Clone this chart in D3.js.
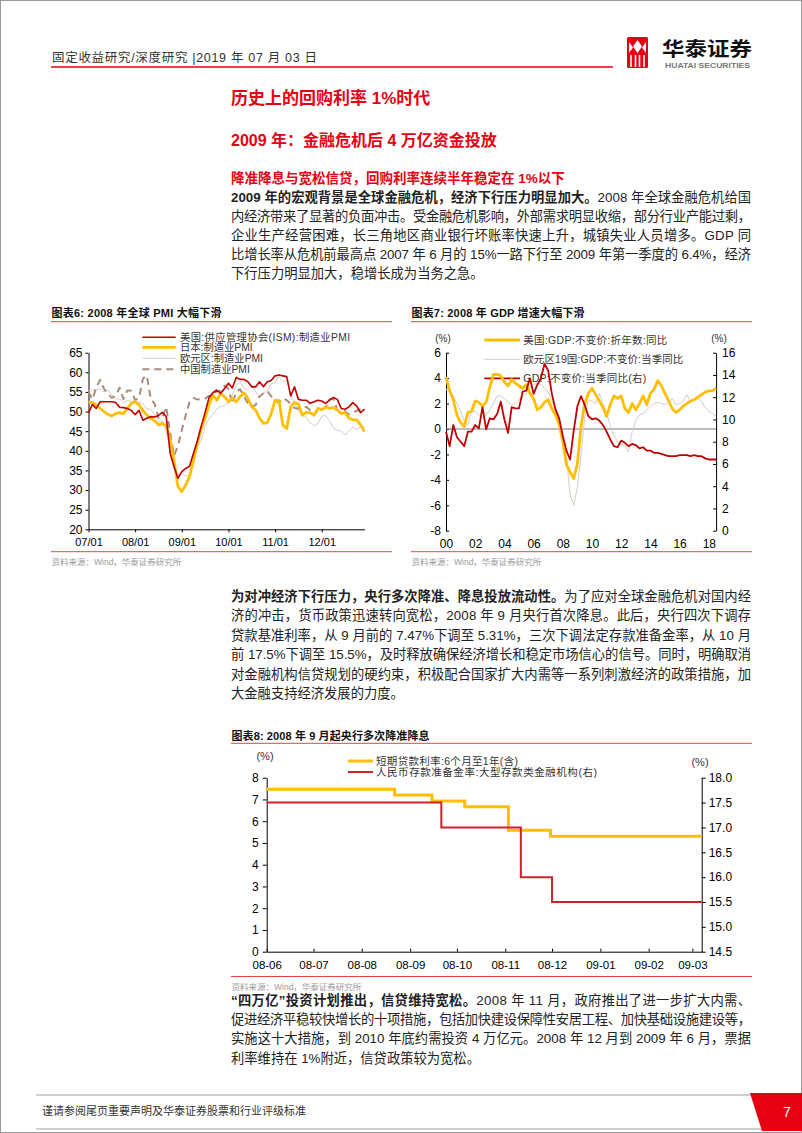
<!DOCTYPE html>
<html><head><meta charset="utf-8">
<script src="https://cdn.jsdelivr.net/npm/d3@7"></script>
<style>
body{margin:0;background:#fff;}
#page{width:802px;height:1133px;overflow:hidden;}
</style></head><body><div id="page"></div>
<script>
// ---------------- DATA ----------------
// Chart 6: monthly PMI, 2007-01 .. 2012-12
const pmiTickLabels = ['07/01','08/01','09/01','10/01','11/01','12/01'];
const pmiSeriesNames = ['美国:供应管理协会(ISM):制造业PMI','日本:制造业PMI','欧元区:制造业PMI','中国制造业PMI'];
const pmiUS = [49.7,51.8,50.8,52.5,52.5,52.5,52.5,52.3,51.1,51.0,50.8,50.3,
  49.2,50.3,47.8,48.3,48.7,48.6,49.0,49.8,48.7,39.4,36.0,33.0,
  34.7,35.5,36.1,39.4,42.5,46.3,49.8,53.5,54.8,55.5,54.6,55.9,
  57.2,56.0,58.7,58.2,58.2,57.6,56.3,56.3,57.6,56.3,57.6,57.9,
  59.1,59.3,59.1,58.9,54.0,56.3,53.1,52.9,52.9,52.1,52.5,52.9,
  52.7,52.1,52.9,53.6,53.1,50.8,50.6,51.2,52.3,51.4,49.7,50.6];
const pmiJapan = [52.5,52.3,51.7,50.8,50.0,49.3,48.9,49.5,49.7,49.5,50.8,52.1,
  52.5,51.7,50.2,49.1,48.3,47.7,46.6,47.0,46.3,42.8,37.7,30.9,
  29.6,31.3,33.4,37.7,41.9,45.7,48.3,51.7,54.2,52.9,54.6,53.8,
  52.5,53.4,52.5,53.8,54.8,53.4,51.2,50.4,48.3,47.0,47.2,49.5,
  52.9,52.8,46.6,45.7,51.2,52.3,51.9,49.1,49.8,49.7,49.1,50.8,
  50.5,51.2,50.8,51.0,50.4,49.5,49.7,48.3,47.9,47.9,46.6,44.9];
const pmiEuro = [55.4,55.5,55.6,55.8,55.0,55.6,54.3,53.2,53.2,52.2,52.8,52.6,
  52.8,52.3,52.0,50.7,50.6,49.2,47.4,47.6,45.0,41.1,35.6,33.9,
  34.4,33.5,33.9,36.8,40.7,42.6,46.3,48.2,49.3,50.7,51.2,51.6,
  52.4,54.2,56.6,57.6,55.8,55.6,56.7,55.1,53.7,54.6,55.3,57.1,
  57.3,59.0,57.5,58.0,54.6,52.0,50.4,49.0,48.5,47.1,46.4,46.9,
  48.8,49.0,47.7,45.9,45.1,45.1,44.0,45.1,46.1,45.4,46.2,46.1];
const pmiChina = [55.1,53.1,56.1,58.1,55.8,54.5,53.5,54.0,56.1,53.2,55.4,55.3,
  53.0,53.4,58.4,59.2,53.3,52.0,48.4,48.4,51.2,44.6,38.8,41.2,
  45.3,49.0,52.4,53.5,53.1,53.2,53.3,54.0,54.3,55.2,55.2,56.6,
  55.8,52.0,55.1,55.7,53.9,52.1,51.2,51.7,53.8,54.7,55.2,53.9,
  52.9,52.2,53.4,52.9,52.0,50.9,50.7,50.9,51.2,50.4,49.0,50.3,
  50.5,51.0,53.1,53.3,50.4,50.2,50.1,49.2,49.8,50.2,50.6,50.6];

// Chart 7: quarterly GDP yoy, 2000Q3 .. 2019Q1
const gdpTickLabels = ['00','02','04','06','08','10','12','14','16','18'];
const gdpSeriesNames = ['美国:GDP:不变价:折年数:同比','欧元区19国:GDP:不变价:当季同比','GDP:不变价:当季同比(右)'];
const gdpUS = [4.1,3.0,2.3,1.1,0.5,0.2,1.3,1.4,2.2,2.1,
  1.8,2.1,3.3,4.3,4.3,4.2,3.7,3.4,3.9,3.6,
  3.4,3.2,3.5,2.8,2.4,1.5,1.7,2.1,2.3,1.6,
  1.1,0.4,-1.0,-2.8,-3.4,-3.9,-2.7,0.2,2.0,2.8,
  3.2,2.7,2.2,1.7,1.0,1.9,2.6,2.4,2.6,1.6,
  1.3,2.0,1.5,2.0,2.6,1.9,2.8,3.1,3.8,3.4,
  2.8,2.2,1.6,1.3,1.5,1.8,2.0,2.2,2.3,2.5,
  2.7,2.9,3.0,3.0,3.2];
const gdpEuro = [3.1,3.0,2.6,2.0,1.4,0.6,0.3,1.4,1.4,1.1,
  0.8,1.1,1.5,2.0,2.6,2.6,2.4,2.1,1.9,2.0,
  2.3,2.5,2.8,3.3,3.5,3.6,3.5,3.2,2.9,2.2,
  1.5,0.8,-0.3,-2.2,-5.2,-6.0,-4.6,-2.0,0.9,2.3,
  2.2,2.0,2.8,2.0,1.3,0.2,-0.5,-1.0,-1.2,-1.3,
  -1.8,-0.2,0.7,1.1,1.2,1.5,1.8,2.0,2.1,2.0,
  1.9,2.1,2.4,1.9,2.0,2.2,2.7,2.1,2.3,2.4,
  2.2,1.7,1.4,1.2,1.0];
const gdpChina = [8.9,7.6,9.5,8.4,8.0,7.6,8.9,8.9,9.5,9.2,
  11.1,9.1,10.1,10.0,10.5,11.6,10.0,8.8,11.1,11.0,
  11.0,12.5,12.6,13.7,12.3,13.1,13.7,15.0,14.4,12.3,
  10.9,10.1,8.5,7.2,6.4,9.0,11.2,12.1,11.3,10.3,
  10.0,10.1,9.9,9.5,8.9,8.2,7.6,7.5,8.1,7.9,
  7.6,7.8,7.7,7.4,7.5,7.2,7.2,7.0,7.0,6.9,
  6.8,6.7,6.7,6.7,6.8,6.8,6.8,6.7,6.8,6.7,
  6.7,6.5,6.4,6.4,6.4];

// Chart 8: step series
const rateTickLabels = ['08-06','08-07','08-08','08-09','08-10','08-11','08-12','09-01','09-02','09-03'];
const rateSeriesNames = ['短期贷款利率:6个月至1年(含)','人民币存款准备金率:大型存款类金融机构(右)'];
const loanDates = ['2008-06-01','2008-08-22','2008-09-15','2008-10-06','2008-11-03','2008-11-30','2009-03-07'];
const loanRates = [7.47,7.20,6.93,6.66,5.58,5.31,5.31];
const rrrDates = ['2008-06-01','2008-09-21','2008-11-11','2008-12-01','2009-03-07'];
const rrrRates = [17.5,17.0,16.0,15.5,15.5];

// ---------------- PAGE ----------------
const FONT = '"Liberation Sans","Noto Sans CJK SC",sans-serif';
const RED = '#e60012';
const svg = d3.select('#page').append('svg').attr('width',802).attr('height',1133)
  .style('font-family',FONT);
svg.append('rect').attr('x',0.5).attr('y',0.5).attr('width',801).attr('height',1132)
  .attr('fill','#fff').attr('stroke','#9a9a9a');

function text(x,y,s,o={}){
  const t = svg.append('text').attr('x',x).attr('y',y).text(s)
    .attr('font-size',o.fs||12).attr('fill',o.fill||'#222');
  if(o.bold) t.attr('font-weight','bold');
  if(o.anchor) t.attr('text-anchor',o.anchor);
  if(o.len) t.attr('textLength',o.len).attr('lengthAdjust',o.adj||'spacingAndGlyphs');
  return t;
}
function hline(x1,x2,y,c,w){svg.append('line').attr('x1',x1).attr('x2',x2).attr('y1',y).attr('y2',y).attr('stroke',c).attr('stroke-width',w);}

// header
text(52,62,'固定收益研究/深度研究 |2019 年 07 月 03 日',{fs:12.5,fill:'#333',len:265,adj:'spacing'});
hline(51,613,67,RED,1.5);
// logo
svg.append('rect').attr('x',627).attr('y',37).attr('width',21).attr('height',31).attr('rx',1.5).attr('fill',RED);
const lg = svg.append('g').attr('fill','#fff');
lg.append('path').attr('d','M637.5,40 L642,46.5 L637.5,53 L633,46.5Z');
lg.append('path').attr('d','M629,42 L633,47.5 L629,53Z');
lg.append('path').attr('d','M646,42 L642,47.5 L646,53Z');
[631,635.5,639.5,644].forEach(x=>lg.append('rect').attr('x',x-0.8).attr('y',55).attr('width',1.6).attr('height',12));
text(662,56,'华泰证券',{fs:19,bold:true,fill:'#111',len:90});
text(665,67.5,'HUATAI SECURITIES',{fs:7.5,bold:true,fill:'#777',len:85});

// titles
text(231,104,'历史上的回购利率 1%时代',{fs:17,bold:true,fill:RED});
text(231,146,'2009 年：金融危机后 4 万亿资金投放',{fs:16,bold:true,fill:RED});
text(231,183,'降准降息与宽松信贷，回购利率连续半年稳定在 1%以下',{fs:13.5,bold:true,fill:RED});

function para(lines,y0,dy){
  lines.forEach((ln,k)=>{
    const t = svg.append('text').attr('x',231).attr('y',y0+k*dy).attr('font-size',13.3).attr('fill','#222');
    ln.s.forEach(seg=>{const ts=t.append('tspan').text(seg[0]); if(seg[1]) ts.attr('font-weight','bold');});
    if(ln.j) t.attr('textLength',520).attr('lengthAdjust','spacing');
  });
}
para([
 {s:[['2009 年的宏观背景是全球金融危机，经济下行压力明显加大。',1],['2008 年全球金融危机给国']],j:1},
 {s:[['内经济带来了显著的负面冲击。受金融危机影响，外部需求明显收缩，部分行业产能过剩，']],j:1},
 {s:[['企业生产经营困难，长三角地区商业银行坏账率快速上升，城镇失业人员增多。GDP 同']],j:1},
 {s:[['比增长率从危机前最高点 2007 年 6 月的 15%一路下行至 2009 年第一季度的 6.4%，经济']],j:1},
 {s:[['下行压力明显加大，稳增长成为当务之急。']]}
],201.5,19);

para([
 {s:[['为对冲经济下行压力，央行多次降准、降息投放流动性。',1],['为了应对全球金融危机对国内经']],j:1},
 {s:[['济的冲击，货币政策迅速转向宽松，2008 年 9 月央行首次降息。此后，央行四次下调存']],j:1},
 {s:[['贷款基准利率，从 9 月前的 7.47%下调至 5.31%，三次下调法定存款准备金率，从 10 月']],j:1},
 {s:[['前 17.5%下调至 15.5%，及时释放确保经济增长和稳定市场信心的信号。同时，明确取消']],j:1},
 {s:[['对金融机构信贷规划的硬约束，积极配合国家扩大内需等一系列刺激经济的政策措施，加']],j:1},
 {s:[['大金融支持经济发展的力度。']]}
],600.5,19.5);

para([
 {s:[['“四万亿”投资计划推出，信贷维持宽松。',1],['2008 年 11 月，政府推出了进一步扩大内需、']],j:1},
 {s:[['促进经济平稳较快增长的十项措施，包括加快建设保障性安居工程、加快基础设施建设等，']],j:1},
 {s:[['实施这十大措施，到 2010 年底约需投资 4 万亿元。2008 年 12 月到 2009 年 6 月，票据']],j:1},
 {s:[['利率维持在 1%附近，信贷政策较为宽松。']]}
],1004.5,19.4);

// footer
hline(36,752,1095,'#a0a0a0',1.2);
hline(36,802,1129,'#a0a0a0',1.2);
text(42,1115,'谨请参阅尾页重要声明及华泰证券股票和行业评级标准',{fs:11,fill:'#333'});
svg.append('path').attr('d','M750,1093 L802,1093 L802,1131 L762,1131 Q756,1112 750,1093Z').attr('fill',RED);
text(787,1117,'7',{fs:14,fill:'#fff',anchor:'middle'});

// chart frame helper
function frame(x1,x2,yt,yl,yb,title,tlen){
  text(x1+0.5,yt,title,{fs:11,bold:true,fill:'#111',len:tlen,adj:'spacing'});
  hline(x1,x2,yl,'#e4453f',1);
  hline(x1,x2,yb,'#e4453f',1);
  text(x1+0.5,yb+13.5,'资料来源：Wind，华泰证券研究所',{fs:8.5,fill:'#999'});
}
function styleAxis(g,fs){
  g.attr('font-size',fs).attr('font-family',FONT);
  g.selectAll('text').attr('fill','#000');
  g.selectAll('line,path').attr('stroke','#000');
}
const plain = d=>String(d);

// ---------------- CHART 6 ----------------
frame(51,392,317,321.7,551.7,'图表6:  2008 年全球 PMI 大幅下滑',170);
{
  const x = d3.scaleLinear().domain([0,71]).range([88.5,364.5]);
  const y = d3.scaleLinear().domain([20,65]).range([529.3,352.7]);
  const gL = svg.append('g').attr('transform','translate(88.5,0)')
    .call(d3.axisLeft(y).tickValues(d3.range(20,66,5)).tickFormat(plain).tickSize(3).tickSizeOuter(0).tickPadding(3));
  styleAxis(gL,12);
  const gB = svg.append('g').attr('transform','translate(0,529.3)')
    .call(d3.axisBottom(x).tickValues(d3.range(0,61,12)).tickFormat((d,i)=>pmiTickLabels[i]).tickSize(3).tickSizeOuter(0).tickPadding(5.5));
  styleAxis(gB,11);
  const line = d3.line().x((d,i)=>x(i)).y(d=>y(d));
  const styles = [
    {data:pmiEuro,c:'#d6ccc2',w:1},
    {data:pmiChina,c:'#a88c7c',w:2,dash:'7,5'},
    {data:pmiJapan,c:'#ffbf00',w:2.8},
    {data:pmiUS,c:'#c00000',w:1.6}
  ];
  const leg = [{c:'#c00000',w:1.6},{c:'#ffbf00',w:2.8},{c:'#d6ccc2',w:1},{c:'#a88c7c',w:2,dash:'7,5'}];
  const ly = [337.3,347.3,358.3,369.3];
  const llen = [170,null,null,null];
  leg.forEach((s,i)=>{
    svg.append('line').attr('x1',142.3).attr('x2',175.7).attr('y1',ly[i]).attr('y2',ly[i])
      .attr('stroke',s.c).attr('stroke-width',s.w).attr('stroke-dasharray',s.dash||null);
    text(180,ly[i]+3.6,pmiSeriesNames[i],{fs:10.3,fill:'#333',len:llen[i],adj:'spacing'});
  });
  styles.forEach(s=>{
    svg.append('path').attr('d',line(s.data)).attr('fill','none').attr('stroke',s.c)
      .attr('stroke-width',s.w).attr('stroke-dasharray',s.dash||null).attr('stroke-linejoin','round');
  });
}

// ---------------- CHART 7 ----------------
frame(411,752,317,321.7,551.7,'图表7:  2008 年 GDP 增速大幅下滑',173);
{
  const x = d3.scaleLinear().domain([0,74]).range([446,716.1]);
  const yL = d3.scaleLinear().domain([-8,6]).range([530.7,352.7]);
  const yR = d3.scaleLinear().domain([0,16]).range([530.7,352.7]);
  const gL = svg.append('g').attr('transform','translate(446,0)')
    .call(d3.axisLeft(yL).tickValues(d3.range(-8,7,2)).tickFormat(plain).tickSize(-3).tickSizeOuter(0).tickPadding(5));
  styleAxis(gL,12);
  const gR = svg.append('g').attr('transform','translate(716.1,0)')
    .call(d3.axisRight(yR).tickValues(d3.range(0,17,2)).tickFormat(plain).tickSize(-3).tickSizeOuter(0).tickPadding(6));
  styleAxis(gR,12);
  svg.append('line').attr('x1',446).attr('x2',716.1).attr('y1',yL(0)).attr('y2',yL(0)).attr('stroke','#777').attr('stroke-width',1);
  const gB = svg.append('g').attr('transform','translate(0,530.7)')
    .call(d3.axisBottom(x).tickValues(d3.range(0,73,8)).tickFormat((d,i)=>gdpTickLabels[i]).tickSize(0).tickPadding(8.5));
  styleAxis(gB,12);
  gB.select('.domain').remove();
  text(443,341.5,'(%)',{fs:10,fill:'#333',anchor:'middle'});
  text(719,341.5,'(%)',{fs:10,fill:'#333',anchor:'middle'});
  const leg = [{c:'#ffbf00',w:2.8},{c:'#d6ccc2',w:1},{c:'#c00000',w:1.8}];
  const ly = [340,359.3,378.3];
  const llen = [144,160,123];
  leg.forEach((s,i)=>{
    svg.append('line').attr('x1',484.3).attr('x2',520).attr('y1',ly[i]).attr('y2',ly[i])
      .attr('stroke',s.c).attr('stroke-width',s.w);
    text(523.3,ly[i]+3.7,gdpSeriesNames[i],{fs:10.5,fill:'#333',len:llen[i],adj:'spacing'});
  });
  const lineL = d3.line().x((d,i)=>x(i)).y(d=>yL(d));
  const lineR = d3.line().x((d,i)=>x(i)).y(d=>yR(d));
  svg.append('path').attr('d',lineL(gdpEuro)).attr('fill','none').attr('stroke','#d6ccc2').attr('stroke-width',1);
  svg.append('path').attr('d',lineL(gdpUS)).attr('fill','none').attr('stroke','#ffbf00').attr('stroke-width',2.8).attr('stroke-linejoin','round');
  svg.append('path').attr('d',lineR(gdpChina)).attr('fill','none').attr('stroke','#c00000').attr('stroke-width',1.8).attr('stroke-linejoin','round');
}

// ---------------- CHART 8 ----------------
frame(231,752,740,743.3,976.5,'图表8:  2008 年 9 月起央行多次降准降息',198);
{
  const pd = d3.timeParse('%Y-%m-%d');
  const pm = d3.timeParse('%y-%m');
  const x = d3.scaleTime().domain([pd('2008-06-01'),pd('2009-03-07')]).range([266.7,701.7]);
  const yL = d3.scaleLinear().domain([0,8]).range([951.7,777.7]);
  const yR = d3.scaleLinear().domain([14.5,18]).range([951.7,777.7]);
  const gL = svg.append('g').attr('transform','translate(266.7,0)')
    .call(d3.axisLeft(yL).tickValues(d3.range(0,9,1)).tickFormat(plain).tickSize(4).tickSizeOuter(0).tickPadding(4));
  styleAxis(gL,12);
  const gR = svg.append('g').attr('transform','translate(701.7,0)')
    .call(d3.axisRight(yR).tickValues(d3.range(14.5,18.01,0.5)).tickFormat(d3.format('.1f')).tickSize(4).tickSizeOuter(0).tickPadding(3));
  styleAxis(gR,12);
  const gB = svg.append('g').attr('transform','translate(0,951.7)')
    .call(d3.axisBottom(x).tickValues(rateTickLabels.map(pm)).tickFormat(d3.timeFormat('%y-%m')).tickSize(-3).tickSizeOuter(0).tickPadding(9));
  styleAxis(gB,11.5);
  text(265,760,'(%)',{fs:11,fill:'#333',anchor:'middle'});
  text(700,766,'(%)',{fs:11,fill:'#333',anchor:'middle'});
  const legc = ['#ffbf00','#d0202a'], legw=[3,2], ly=[761,772], llen=[142,221];
  legc.forEach((c,i)=>{
    svg.append('line').attr('x1',348).attr('x2',373).attr('y1',ly[i]).attr('y2',ly[i]).attr('stroke',c).attr('stroke-width',legw[i]);
    text(376,ly[i]+3.7,rateSeriesNames[i],{fs:10.5,fill:'#333',len:llen[i],adj:'spacing'});
  });
  const loan = loanDates.map((d,i)=>({d:pd(d),v:loanRates[i]}));
  const rrr = rrrDates.map((d,i)=>({d:pd(d),v:rrrRates[i]}));
  svg.append('path').attr('d',d3.line().curve(d3.curveStepAfter).x(d=>x(d.d)).y(d=>yL(d.v))(loan))
    .attr('fill','none').attr('stroke','#ffbf00').attr('stroke-width',3);
  svg.append('path').attr('d',d3.line().curve(d3.curveStepAfter).x(d=>x(d.d)).y(d=>yR(d.v))(rrr))
    .attr('fill','none').attr('stroke','#d0202a').attr('stroke-width',2);
}
</script></body></html>
